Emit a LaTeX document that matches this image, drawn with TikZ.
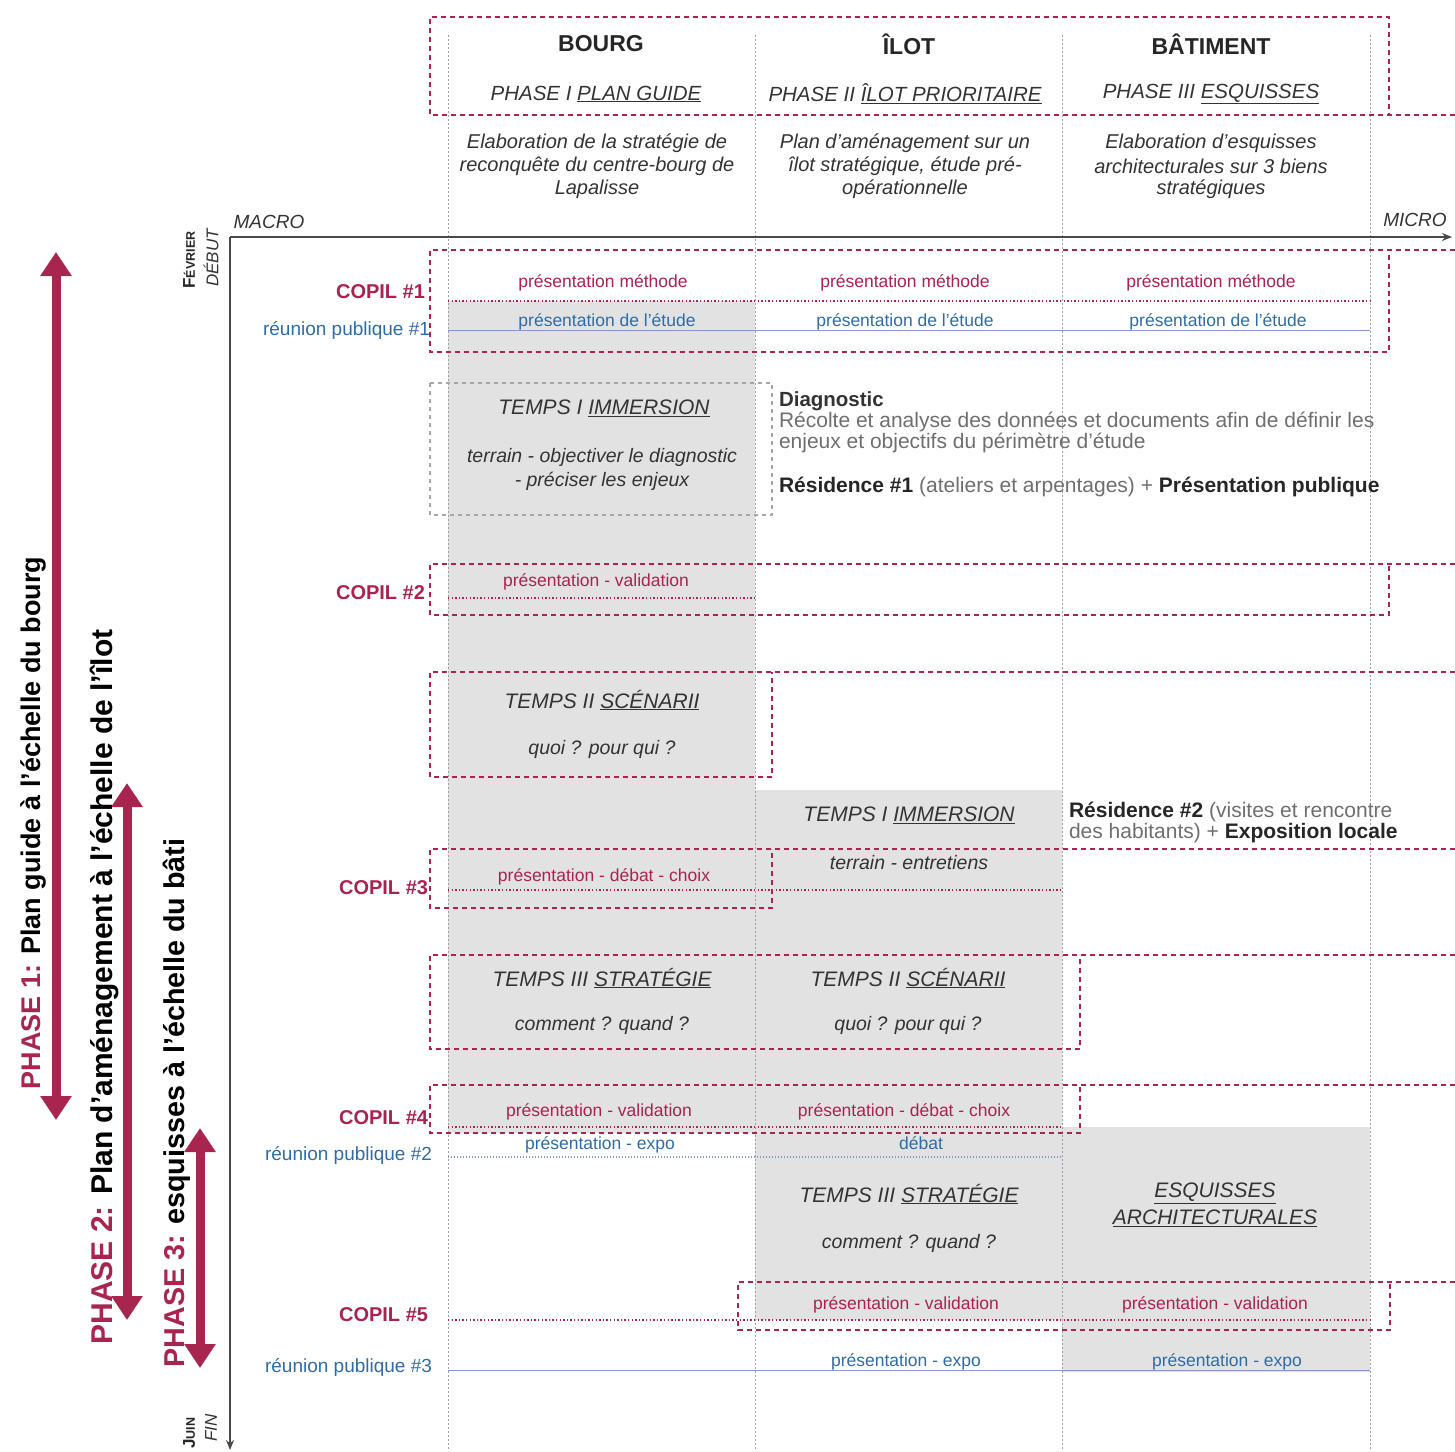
\documentclass[tikz,border=0pt]{standalone}
\usepackage{fontspec}
\setmainfont{Liberation Sans}
\usetikzlibrary{arrows.meta}
\definecolor{crim}{HTML}{A8254F}
\definecolor{crimtxt}{HTML}{A82350}
\definecolor{bluetxt}{HTML}{2F6CA6}
\definecolor{bluel}{HTML}{7E9CC4}
\definecolor{grayfill}{HTML}{E2E2E2}
\definecolor{axisc}{HTML}{4A4A4A}
\definecolor{txtgray}{HTML}{6E6E6E}
\definecolor{txtdark}{HTML}{333333}
\begin{document}
\begin{tikzpicture}[x=1pt,y=-1pt,
  every node/.style={inner sep=0pt, outer sep=0pt},
  dbox/.style={draw=crim, line width=1.8pt, dash pattern=on 5pt off 4pt},
  gbox/.style={draw=gray!70, line width=1.2pt, dash pattern=on 4pt off 4pt},
  dotc/.style={draw=crim, line width=1.8pt, dash pattern=on 1.4pt off 2.2pt},
  colline/.style={draw=gray!75, line width=0.8pt, dash pattern=on 2pt off 2pt},
  axisline/.style={draw=axisc, line width=2.4pt, -{Stealth[length=10pt,width=8pt]}},
  phasearrow/.style={draw=crim, line width=9pt, {Triangle[width=30pt,length=24pt]}-{Triangle[width=30pt,length=24pt]}},
  hdr/.style={font=\fontsize{23}{28}\selectfont\bfseries, text=black!85},
  phasehdr/.style={font=\fontsize{20.5}{24}\selectfont\itshape, text=txtdark},
  desc/.style={font=\fontsize{20}{23}\selectfont\itshape, text=txtdark},
  copil/.style={font=\fontsize{20}{24}\selectfont\bfseries, text=crimtxt, anchor=east},
  reunion/.style={font=\fontsize{19}{23}\selectfont, text=bluetxt, anchor=east},
  ctxt/.style={font=\fontsize{17.5}{21}\selectfont, text=crimtxt},
  btxt/.style={font=\fontsize{17.5}{21}\selectfont, text=bluetxt},
  temps/.style={font=\fontsize{21}{25}\selectfont\itshape, text=txtdark},
  tsub/.style={font=\fontsize{19.5}{23}\selectfont\itshape, text=txtdark},
  diag/.style={font=\fontsize{21}{24}\selectfont, text=txtgray, anchor=west},
  phtxt/.style={rotate=90, text=black},
  mm/.style={font=\fontsize{19}{22}\selectfont\itshape, text=txtdark}
]
\useasboundingbox (0,0) rectangle (1455,1451);

% gray fills
\fill[grayfill] (448,301) rectangle (755,1133);
\fill[grayfill] (755,790) rectangle (1062,1320);
\fill[grayfill] (1062,1127) rectangle (1370,1372);

% column lines
\foreach \cx in {448,755,1062,1370} \draw[colline] (\cx,35) -- (\cx,1451);

% header box
\draw[dbox] (1455,115) -- (430,115) -- (430,17) -- (1389,17) -- (1389,115);
\node[hdr] (hb) at (601,44) {BOURG};
\node[hdr] (hi) at (909,44) {ÎLOT};
\node[hdr] (hbt) at (1211,44) {BÂTIMENT};
\node[phasehdr] (p1) at (596,94) {PHASE I \underline{PLAN GUIDE}};
\node[phasehdr] (p2) at (905,94) {PHASE II \underline{ÎLOT PRIORITAIRE}};
\node[phasehdr] (p3) at (1211,94) {PHASE III \underline{ESQUISSES}};
\node[desc] (d1a) at (597,143) {Elaboration de la stratégie de};
\node[desc] (d1b) at (597,166) {reconquête du centre-bourg de};
\node[desc] (d1c) at (597,189) {Lapalisse};
\node[desc] (d2a) at (905,143) {Plan d'aménagement sur un};
\node[desc] (d2b) at (905,166) {îlot stratégique, étude pré-};
\node[desc] (d2c) at (905,189) {opérationnelle};
\node[desc] (d3a) at (1211,143) {Elaboration d'esquisses};
\node[desc] (d3b) at (1211,166) {architecturales sur 3 biens};
\node[desc] (d3c) at (1211,189) {stratégiques};

% axes
\coordinate (o) at (230,237);
\coordinate (xe) at (1452,237);
\coordinate (ye) at (230,1450);
\draw[axisline] (o) -- (xe);
\draw[axisline] (o) -- (ye);
\node[mm] (macro) at (269,222) {MACRO};
\node[mm] (micro) at (1415,220) {MICRO};
\node[font=\fontsize{17}{19}\selectfont\bfseries, rotate=90, text=black!85] (fev) at (189,260) {F{\fontsize{12.5}{14}\selectfont ÉVRIER}};
\node[font=\fontsize{17}{19}\selectfont\itshape, rotate=90, text=txtdark] (deb) at (211,258) {DÉBUT};
\node[font=\fontsize{17}{19}\selectfont\bfseries, rotate=90, text=black!85] (juin) at (189,1433) {J{\fontsize{12.5}{14}\selectfont UIN}};
\node[font=\fontsize{17}{19}\selectfont\itshape, rotate=90, text=txtdark] (fin) at (211,1428) {FIN};

% COPIL #1 / reunion publique #1
\draw[bluel, line width=1pt] (448,330) -- (1370,330);
\draw[dotc] (448,301) -- (1370,301);
\draw[dbox] (1455,250) -- (430,250) -- (430,352) -- (1389,352) -- (1389,250);
\node[copil] (c1) at (425,292) {COPIL \#1};
\node[reunion] (r1) at (430,330) {réunion publique \#1};
\node[ctxt] (c1a) at (603,283) {présentation méthode};
\node[ctxt] (c1b) at (905,283) {présentation méthode};
\node[ctxt] (c1c) at (1211,283) {présentation méthode};
\node[btxt] (r1a) at (607,322) {présentation de l'étude};
\node[btxt] (r1b) at (905,322) {présentation de l'étude};
\node[btxt] (r1c) at (1218,322) {présentation de l'étude};

% TEMPS I IMMERSION (bourg)
\draw[gbox] (430,383) rectangle (772,515);
\node[temps] (t1) at (604,408) {TEMPS I \underline{IMMERSION}};
\node[tsub] (t1a) at (602,457) {terrain - objectiver le diagnostic};
\node[tsub] (t1b) at (602,481) {- préciser les enjeux};
\node[diag, font=\fontsize{20.5}{23}\selectfont\bfseries, text=txtdark] (dg) at (779,401) {Diagnostic};
\node[diag] (dg1) at (779,422) {Récolte et analyse des données et documents afin de définir les};
\node[diag] (dg2) at (779,443) {enjeux et objectifs du périmètre d'étude};
\node[diag] (res1) at (779,487) {{\bfseries\color{black!85}Résidence \#1} (ateliers et arpentages) + {\bfseries\color{black!85}Présentation publique}};

% COPIL #2
\draw[dotc] (448,598) -- (755,598);
\draw[dbox] (1455,564) -- (430,564) -- (430,615) -- (1389,615) -- (1389,564);
\node[copil] (c2) at (425,593) {COPIL \#2};
\node[ctxt] (c2a) at (596,582) {présentation - validation};

% TEMPS II SCENARII (bourg)
\draw[dbox] (1455,672) -- (430,672) -- (430,777) -- (772,777) -- (772,672);
\node[temps] (t2) at (602,700) {TEMPS II \underline{SCÉNARII}};
\node[tsub] (t2a) at (602,749) {quoi ? pour qui ?};

% TEMPS I IMMERSION (ilot) + residence 2
\node[temps] (ti1) at (909,815) {TEMPS I \underline{IMMERSION}};
\node[tsub] (ti1a) at (909,863) {terrain - entretiens};
\node[diag] (res2a) at (1069,812) {{\bfseries\color{black!85}Résidence \#2} (visites et rencontre};
\node[diag] (res2b) at (1069,833) {des habitants) + {\bfseries\color{black!85}Exposition locale}};

% COPIL #3
\draw[dotc] (448,890) -- (1062,890);
\draw[dbox] (1455,849) -- (430,849) -- (430,908) -- (772,908) -- (772,849);
\node[copil] (c3) at (428,888) {COPIL \#3};
\node[ctxt] (c3a) at (604,877) {présentation - débat - choix};

% TEMPS III STRATEGIE (bourg) / TEMPS II SCENARII (ilot)
\draw[dbox] (1455,955) -- (430,955) -- (430,1049) -- (1080,1049) -- (1080,955);
\node[temps] (t3) at (602,978) {TEMPS III \underline{STRATÉGIE}};
\node[tsub] (t3a) at (602,1025) {comment ? quand ?};
\node[temps] (ti2) at (908,978) {TEMPS II \underline{SCÉNARII}};
\node[tsub] (ti2a) at (908,1025) {quoi ? pour qui ?};

% COPIL #4
\draw[dotc] (448,1127) -- (1062,1127);
\draw[dbox] (1455,1085) -- (430,1085) -- (430,1133) -- (1080,1133) -- (1080,1085);
\node[copil] (c4) at (428,1118) {COPIL \#4};
\node[ctxt] (c4a) at (599,1112) {présentation - validation};
\node[ctxt] (c4b) at (904,1112) {présentation - débat - choix};

% reunion publique #2
\draw[bluel, line width=1.4pt, dash pattern=on 1.4pt off 1.6pt] (448,1157) -- (1062,1157);
\node[reunion] (r2) at (432,1155) {réunion publique \#2};
\node[btxt] (r2a) at (600,1145) {présentation - expo};
\node[btxt] (r2b) at (921,1143) {débat};

% TEMPS III STRATEGIE (ilot) / ESQUISSES
\node[temps] (ti3) at (909,1194) {TEMPS III \underline{STRATÉGIE}};
\node[tsub] (ti3a) at (909,1243) {comment ? quand ?};
\node[temps] (es1) at (1215,1193) {\underline{ESQUISSES}};
\node[temps] (es2) at (1215,1218) {\underline{ARCHITECTURALES}};

% COPIL #5
\draw[dotc] (448,1320) -- (1370,1320);
\draw[dbox] (1455,1282) -- (738,1282) -- (738,1330) -- (1390,1330) -- (1390,1282);
\node[copil] (c5) at (428,1315) {COPIL \#5};
\node[ctxt] (c5a) at (906,1305) {présentation - validation};
\node[ctxt] (c5b) at (1215,1305) {présentation - validation};

% reunion publique #3
\draw[bluel, line width=1pt] (448,1370) -- (1370,1370);
\node[reunion] (r3) at (432,1367) {réunion publique \#3};
\node[btxt] (r3a) at (906,1362) {présentation - expo};
\node[btxt] (r3b) at (1227,1362) {présentation - expo};

% phase arrows
\coordinate (a1s) at (56,252);
\coordinate (a1e) at (56,1120);
\coordinate (a2s) at (127,783);
\coordinate (a2e) at (127,1320);
\coordinate (a3s) at (200,1128);
\coordinate (a3e) at (200,1368);
\draw[phasearrow] (a1s) -- (a1e);
\draw[phasearrow] (a2s) -- (a2e);
\draw[phasearrow] (a3s) -- (a3e);
\node[phtxt, font=\fontsize{27}{30}\selectfont\bfseries] (ph1) at (33,823) {{\color{crim}PHASE 1:} Plan guide à l'échelle du bourg};
\node[phtxt, font=\fontsize{30}{33}\selectfont\bfseries] (ph2) at (104,987) {{\color{crim}PHASE 2:} Plan d'aménagement à l'échelle de l'îlot};
\node[phtxt, font=\fontsize{28.7}{32}\selectfont\bfseries] (ph3) at (177,1103) {{\color{crim}PHASE 3:} esquisses à l'échelle du bâti};
\end{tikzpicture}
\end{document}
